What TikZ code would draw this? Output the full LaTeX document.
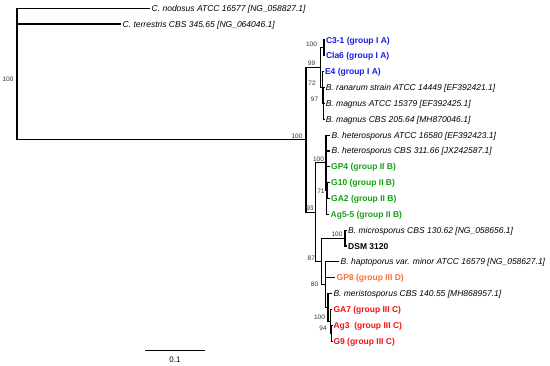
\documentclass[tikz,border=0pt]{standalone}
\usepackage{fontspec}
\setmainfont{Liberation Sans}
\definecolor{gA}{RGB}{25,25,230}
\definecolor{gB}{RGB}{20,160,20}
\definecolor{gD}{RGB}{255,110,50}
\definecolor{gC}{RGB}{245,15,15}
\begin{document}
\begin{tikzpicture}[x=1pt,y=-1pt,
  br/.style={line width=1.15pt, black},
  tiptext/.style={anchor=west, inner sep=0pt, text height=7.5pt, text depth=1.5pt, font=\fontsize{8.5}{10}\selectfont\itshape},
  grp/.style={anchor=west, inner sep=0pt, text height=7.5pt, text depth=1.5pt, font=\fontsize{8.5}{10}\selectfont\bfseries},
  bs/.style={inner sep=0pt, font=\fontsize{6.5}{7}\selectfont, text=black!80}]
\useasboundingbox (0,0) rectangle (550,365);
% internal nodes
\coordinate (R) at (17,74.1);
\coordinate (I) at (306,139.9);
\coordinate (n99) at (320.7,67.7);
\coordinate (n100a) at (324,47.9);
\coordinate (n72) at (322.2,87.55);
\coordinate (n97) at (323.8,103.4);
\coordinate (n93) at (315.5,212.1);
\coordinate (n100b) at (326,162.85);
\coordinate (nY) at (326.8,190.6);
\coordinate (n71) at (327.8,190.6);
\coordinate (n87) at (321.5,261.4);
\coordinate (n100c) at (345,238.1);
\coordinate (n80) at (325.5,284.7);
\coordinate (nX) at (328,307.5);
\coordinate (n100d) at (330.3,321.3);
\coordinate (n94) at (331.5,333.2);
% tips
\node[tiptext] (tN) at (151.5,8.3) {C. nodosus ATCC 16577 [NG\_058827.1]};
\node[tiptext] (tT) at (122.5,24) {C. terrestris CBS 345.65 [NG\_064046.1]};
\node[grp,text=gA] (t0) at (325.8,40) {C3-1 (group I A)};
\node[grp,text=gA] (t1) at (325.8,55.85) {Cla6 (group I A)};
\node[grp,text=gA] (t2) at (324.8,71.7) {E4 (group I A)};
\node[tiptext] (t3) at (325.6,87.55) {B. ranarum strain ATCC 14449 [EF392421.1]};
\node[tiptext] (t4) at (325.6,103.4) {B. magnus ATCC 15379 [EF392425.1]};
\node[tiptext] (t5) at (325.6,119.25) {B. magnus CBS 205.64 [MH870046.1]};
\node[tiptext] (t6) at (331.5,135.1) {B. heterosporus ATCC 16580 [EF392423.1]};
\node[tiptext] (t7) at (331.5,150.95) {B. heterosporus CBS 311.66 [JX242587.1]};
\node[grp,text=gB] (t8) at (331,166.8) {GP4 (group II B)};
\node[grp,text=gB] (t9) at (331,182.65) {G10 (group II B)};
\node[grp,text=gB] (t10) at (331,198.5) {GA2 (group II B)};
\node[grp,text=gB] (t11) at (330.5,214.35) {Ag5-5 (group II B)};
\node[tiptext] (t12) at (348,230.2) {B. microsporus CBS 130.62 [NG\_058656.1]};
\node[grp,text=black] (t13) at (348,246.05) {DSM 3120};
\node[tiptext] (t14) at (340.5,261.9) {B. haptoporus var. minor ATCC 16579 [NG\_058627.1]};
\node[grp,text=gD] (t15) at (336.5,277.75) {GP8 (group III D)};
\node[tiptext] (t16) at (333.3,293.6) {B. meristosporus CBS 140.55 [MH868957.1]};
\node[grp,text=gC] (t17) at (333.3,309.45) {GA7 (group III C)};
\node[grp,text=gC] (t18) at (333.3,325.3) {Ag3~~(group III C)};
\node[grp,text=gC] (t19) at (333.3,341.15) {G9 (group III C)};
% branches
\draw[br] (R) |- ([xshift=-1.2pt]tN.west);
\draw[br] (R) |- ([xshift=-1.2pt]tT.west);
\draw[br] (R) |- (I);
\draw[br] (I) |- (n99);
\draw[br] (I) |- (n93);
\draw[br] (n99) |- (n100a);
\draw[br] (n99) |- (n72);
\draw[br] (n100a) |- ([xshift=-1pt]t0.west);
\draw[br] (n100a) |- ([xshift=-1pt]t1.west);
\draw[br] (n72) |- ([xshift=-1pt]t2.west);
\draw[br] (n72) |- (n97);
\draw[br] (n97) |- ([xshift=-1pt]t3.west);
\draw[br] (n97) |- ([xshift=-1pt]t4.west);
\draw[br] (n97) |- ([xshift=-1pt]t5.west);
\draw[br] (n93) |- (n100b);
\draw[br] (n93) |- (n87);
\draw[br] (n100b) |- ([xshift=-1.2pt]t6.west);
\draw[br] (n100b) |- ([xshift=-1.2pt]t7.west);
\draw[br] (n100b) |- (nY);
\draw[br] (nY) |- ([xshift=-1.2pt]t8.west);
\draw[br] (nY) |- (n71);
\draw[br] (nY) |- ([xshift=-1.2pt]t11.west);
\draw[br] (n71) |- ([xshift=-1.2pt]t9.west);
\draw[br] (n71) |- ([xshift=-1.2pt]t10.west);
\draw[br] (n87) |- (n100c);
\draw[br] (n87) |- (n80);
\draw[br] (n100c) |- ([xshift=-1.2pt]t12.west);
\draw[br] (n100c) |- ([xshift=-1.2pt]t13.west);
\draw[br] (n80) |- ([xshift=-1.2pt]t14.west);
\draw[br] (n80) |- ([xshift=-1.2pt]t15.west);
\draw[br] (n80) |- (nX);
\draw[br] (nX) |- ([xshift=-1.2pt]t16.west);
\draw[br] (nX) |- (n100d);
\draw[br] (n100d) |- ([xshift=-1pt]t17.west);
\draw[br] (n100d) |- (n94);
\draw[br] (n94) |- ([xshift=-1pt]t18.west);
\draw[br] (n94) |- ([xshift=-1pt]t19.west);
% bootstrap values
\node[bs] (bR) at (8,79) {100};
\node[bs] (bI) at (297,136.7) {100};
\node[bs] (b99) at (311.5,63.5) {99};
\node[bs] (b100a) at (311.5,44) {100};
\node[bs] (b72) at (312,83.5) {72};
\node[bs] (b97) at (314.5,99) {97};
\node[bs] (b100b) at (318.5,158.8) {100};
\node[bs] (b71) at (321,191) {71};
\node[bs] (b93) at (310,208.5) {93};
\node[bs] (b100c) at (337,234.5) {100};
\node[bs] (b87) at (311.3,258.2) {87};
\node[bs] (b80) at (314.5,284) {80};
\node[bs] (b100d) at (319.5,317) {100};
\node[bs] (b94) at (323,328.5) {94};
% scale bar
\coordinate (sb1) at (145,350.7);
\coordinate (sb2) at (205,350.7);
\draw[br] (sb1) -- (sb2);
\node[inner sep=0pt, font=\fontsize{8}{9}\selectfont] (sbl) at (175,360) {0.1};
\end{tikzpicture}
\end{document}
